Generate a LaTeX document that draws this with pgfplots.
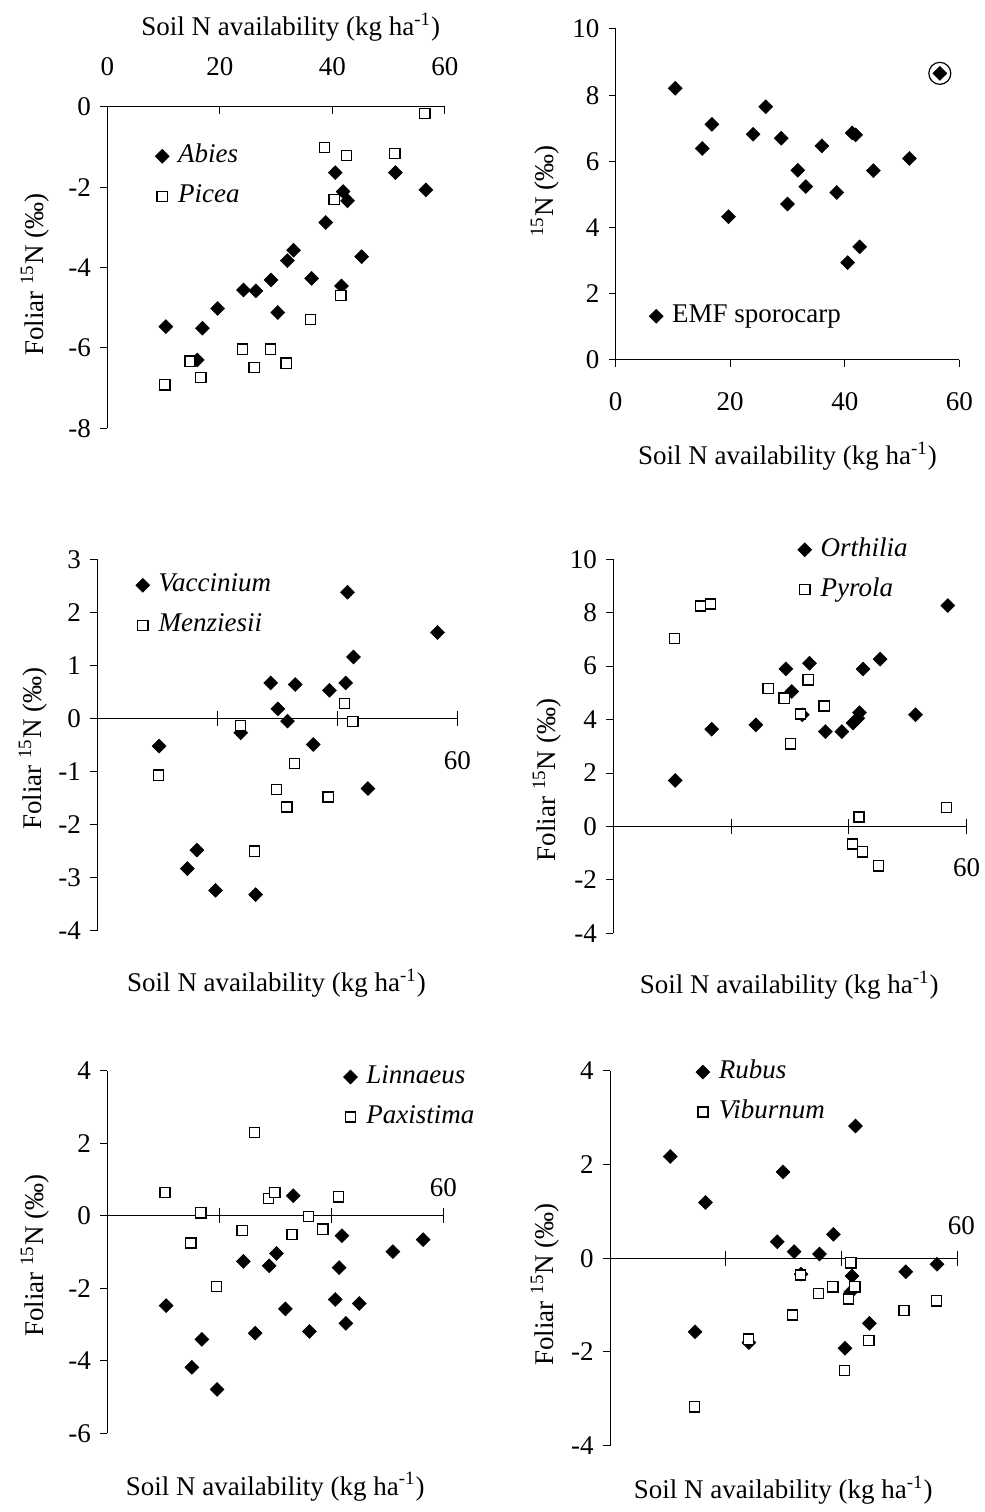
\documentclass[border=0pt]{standalone}
\usepackage{fontspec}
\setmainfont{Liberation Serif}
\usepackage{pgfplots}
\pgfplotsset{compat=1.18}

\pgfplotsset{
  dia/.style={only marks, mark=square*, mark size=2.45pt,
    mark options={rotate=45, fill=black, draw=black, line width=0.3pt},
    legend image code/.code={\draw[##1] plot coordinates {(0pt,0pt)};}},
  sqr/.style={only marks, mark=square*, mark size=2.55pt,
    mark options={draw=black, fill=white, line width=0.7pt},
    legend image code/.code={\draw[##1] plot coordinates {(0pt,0pt)};}},
  noarrow/.style={
    every outer x axis line/.append style={-},
    every inner x axis line/.append style={-},
    every outer y axis line/.append style={-},
    every inner y axis line/.append style={-},
    axis line style={-}},
  panel/.style={
    scale only axis, anchor=south west,
    xmin=0, xmax=60,
    enlarge x limits=false, enlarge y limits=false,
    axis line style={line width=0.5pt, black},
    tick style={black, line width=0.5pt},
    major tick length=3.5pt,
    /pgf/number format/assume math mode=true,
    clip=false,
    legend cell align=left,
    legend style={draw=none, fill=none, inner sep=0pt, anchor=north west,
      row sep=5.5pt, column sep=3.5pt,
      nodes={inner sep=1pt, text height=9.5pt, text depth=3pt}},
    xlabel={Soil N availability (kg ha\textsuperscript{-1})},
    ylabel={Foliar \textsuperscript{15}N (‰)},
  },
  midpanel/.style={panel,
    axis x line=middle, axis y line=left,
    xtick={20,40,60}, xticklabels={,,60},
    xtick align=center, ytick align=outside,
    xtick style={/pgfplots/major tick length=7.5pt},
  }
}

\begin{document}
\fontsize{13.5}{16}\selectfont
\begin{tikzpicture}

% Panel 1
\begin{axis}[panel, at={(53.65pt,541.85pt)}, width=168.85pt, height=160.8pt,
  ymin=-8, ymax=0, ytick={-8,-6,-4,-2,0}, xtick={0,20,40,60},
  axis x line=top, axis y line=left,
  xtick align=inside, ytick align=outside,
  xticklabel style={yshift=11pt},
  xlabel style={at={(axis description cs:0.543,1.248)}, anchor=center},
  ylabel style={at={(axis description cs:-0.214,0.478)}, anchor=center},
  legend style={at={(axis description cs:0.141,0.892)}},
  noarrow,
]
\addplot[dia] coordinates {(10.4,-5.47) (16.9,-5.51) (16.0,-6.30) (19.6,-5.02) (24.2,-4.56) (26.4,-4.58) (29.1,-4.31) (30.3,-5.12) (32.0,-3.83) (33.1,-3.57) (36.3,-4.27) (38.8,-2.88) (40.5,-1.64) (41.9,-2.11) (42.7,-2.34) (41.6,-4.46) (45.2,-3.73) (51.2,-1.64) (56.6,-2.07)};
\addlegendentry{\textit{Abies}}
\addplot[sqr] coordinates {(10.2,-6.92) (14.7,-6.33) (16.6,-6.74) (24.0,-6.03) (26.1,-6.49) (29.0,-6.03) (31.8,-6.38) (36.1,-5.29) (38.6,-1.01) (40.3,-2.31) (42.5,-1.21) (41.5,-4.70) (51.1,-1.16) (56.4,-0.17)};
\addlegendentry{\textit{Picea}}
\end{axis}

% Panel 2
\begin{axis}[panel, at={(307.85pt,576pt)}, width=171.8pt, height=165.5pt,
  ymin=0, ymax=10, ytick={0,2,4,6,8,10}, xtick={0,20,40,60},
  axis x line=bottom, axis y line=left, tick align=outside,
  xticklabel style={yshift=-8pt},
  xlabel style={at={(axis description cs:0.5,-0.290)}, anchor=center},
  ylabel={\textsuperscript{15}N (‰)},
  ylabel style={at={(axis description cs:-0.206,0.51)}, anchor=center},
  legend style={at={(axis description cs:0.0966,0.177)}},
  noarrow,
]
\addplot[dia] coordinates {(10.4,8.21) (15.1,6.39) (16.8,7.12) (19.7,4.33) (24.0,6.82) (26.2,7.65) (28.9,6.70) (30.0,4.71) (31.8,5.73) (33.2,5.24) (36.0,6.47) (38.6,5.06) (41.3,6.86) (41.9,6.80) (40.5,2.94) (42.6,3.42) (45.0,5.72) (51.3,6.09) (56.6,8.66)};
\addlegendentry{EMF sporocarp}
\addplot[only marks, mark=o, mark size=5.5pt, mark options={line width=0.6pt, black}, forget plot] coordinates {(56.6,8.66)};
\end{axis}

% Panel 3
\begin{axis}[midpanel, at={(48.65pt,290.65pt)}, width=180pt, height=185.7pt,
  ymin=-4, ymax=3, ytick={-4,-3,-2,-1,0,1,2,3},
  xticklabel style={anchor=center, yshift=-19.5pt},
  xlabel style={at={(axis description cs:0.498,-0.141)}, anchor=center},
  ylabel style={at={(axis description cs:-0.1786,0.49)}, anchor=center},
  legend style={at={(axis description cs:0.106,0.970)}},
  noarrow,
]
\addplot[dia] coordinates {(10.3,-0.52) (16.6,-2.48) (15.0,-2.83) (19.7,-3.24) (23.9,-0.27) (26.4,-3.32) (28.9,0.67) (30.1,0.18) (31.7,-0.05) (33.0,0.64) (36.0,-0.49) (38.7,0.53) (41.4,0.67) (41.7,2.38) (42.7,1.16) (45.1,-1.32) (56.7,1.62)};
\addlegendentry{\textit{Vaccinium}}
\addplot[sqr] coordinates {(10.2,-1.07) (23.9,-0.13) (26.2,-2.50) (29.9,-1.34) (31.6,-1.67) (32.9,-0.85) (38.5,-1.48) (41.2,0.28) (42.6,-0.06)};
\addlegendentry{\textit{Menziesii}}
\end{axis}

% Panel 4
\begin{axis}[midpanel, at={(306.65pt,289.35pt)}, width=176.7pt, height=187pt,
  ymin=-4, ymax=10, ytick={-4,-2,0,2,4,6,8,10},
  xticklabel style={anchor=center, yshift=-19pt},
  xlabel style={at={(axis description cs:0.498,-0.138)}, anchor=center},
  ylabel style={at={(axis description cs:-0.1876,0.41)}, anchor=center},
  legend style={at={(axis description cs:0.521,1.0655)}},
  noarrow,
]
\addplot[dia] coordinates {(10.5,1.72) (16.7,3.64) (24.2,3.80) (29.3,5.90) (30.3,5.05) (32.1,4.18) (33.3,6.11) (36.0,3.55) (38.8,3.55) (40.7,3.87) (41.5,4.05) (41.8,4.26) (42.4,5.89) (45.3,6.26) (51.3,4.18) (56.8,8.27)};
\addlegendentry{\textit{Orthilia}}
\addplot[sqr] coordinates {(10.4,7.04) (14.8,8.25) (16.5,8.33) (26.3,5.17) (29.0,4.80) (30.1,3.09) (31.8,4.21) (33.1,5.49) (35.8,4.51) (40.6,-0.66) (41.7,0.35) (42.3,-0.95) (45.0,-1.47) (56.6,0.71)};
\addlegendentry{\textit{Pyrola}}
\end{axis}

% Panel 5
\begin{axis}[midpanel, at={(53.65pt,39.35pt)}, width=168pt, height=181.3pt,
  ymin=-6, ymax=4, ytick={-6,-4,-2,0,2,4},
  xticklabel style={anchor=center, yshift=16pt},
  xlabel style={at={(axis description cs:0.5,-0.147)}, anchor=center},
  ylabel style={at={(axis description cs:-0.215,0.49)}, anchor=center},
  legend style={at={(axis description cs:0.702,1.0234)}},
  noarrow,
]
\addplot[dia] coordinates {(10.5,-2.48) (15.1,-4.18) (16.9,-3.41) (19.6,-4.79) (24.3,-1.26) (26.4,-3.24) (28.9,-1.38) (30.2,-1.04) (31.8,-2.57) (33.2,0.55) (36.1,-3.19) (40.7,-2.31) (41.4,-1.43) (41.9,-0.55) (42.6,-2.97) (45.0,-2.42) (51.0,-0.99) (56.4,-0.66)};
\addlegendentry{\textit{Linnaeus}}
\addplot[sqr] coordinates {(10.3,0.64) (14.9,-0.75) (16.7,0.08) (19.5,-1.95) (24.1,-0.41) (26.3,2.30) (28.8,0.48) (29.9,0.64) (33.0,-0.52) (35.9,-0.02) (38.5,-0.37) (41.3,0.52)};
\addlegendentry{\textit{Paxistima}}
\end{axis}

% Panel 6
\begin{axis}[midpanel, at={(305pt,33.15pt)}, width=173.65pt, height=187.5pt,
  ymin=-4, ymax=4, ytick={-4,-2,0,2,4},
  xticklabel style={anchor=center, yshift=18pt, xshift=2pt},
  xlabel style={at={(axis description cs:0.499,-0.118)}, anchor=center},
  ylabel style={at={(axis description cs:-0.187,0.43)}, anchor=center},
  legend style={at={(axis description cs:0.2465,1.036)}},
  noarrow,
]
\addplot[dia] coordinates {(10.4,2.17) (14.7,-1.57) (16.5,1.19) (24.0,-1.80) (28.9,0.35) (29.9,1.84) (31.8,0.14) (33.0,-0.34) (36.2,0.09) (38.6,0.51) (40.6,-1.92) (41.6,-0.72) (41.8,-0.38) (42.4,2.82) (44.8,-1.39) (51.1,-0.29) (56.5,-0.13)};
\addlegendentry{\textit{Rubus}}
\addplot[sqr] coordinates {(14.6,-3.17) (23.9,-1.73) (31.5,-1.21) (32.9,-0.36) (36.0,-0.75) (38.5,-0.61) (40.5,-2.40) (41.2,-0.87) (41.6,-0.10) (42.3,-0.61) (44.7,-1.76) (50.8,-1.12) (56.4,-0.91)};
\addlegendentry{\textit{Viburnum}}
\end{axis}

\pgfresetboundingbox
\path[use as bounding box] (0,0) rectangle (492.5pt,756pt);
\end{tikzpicture}
\end{document}
